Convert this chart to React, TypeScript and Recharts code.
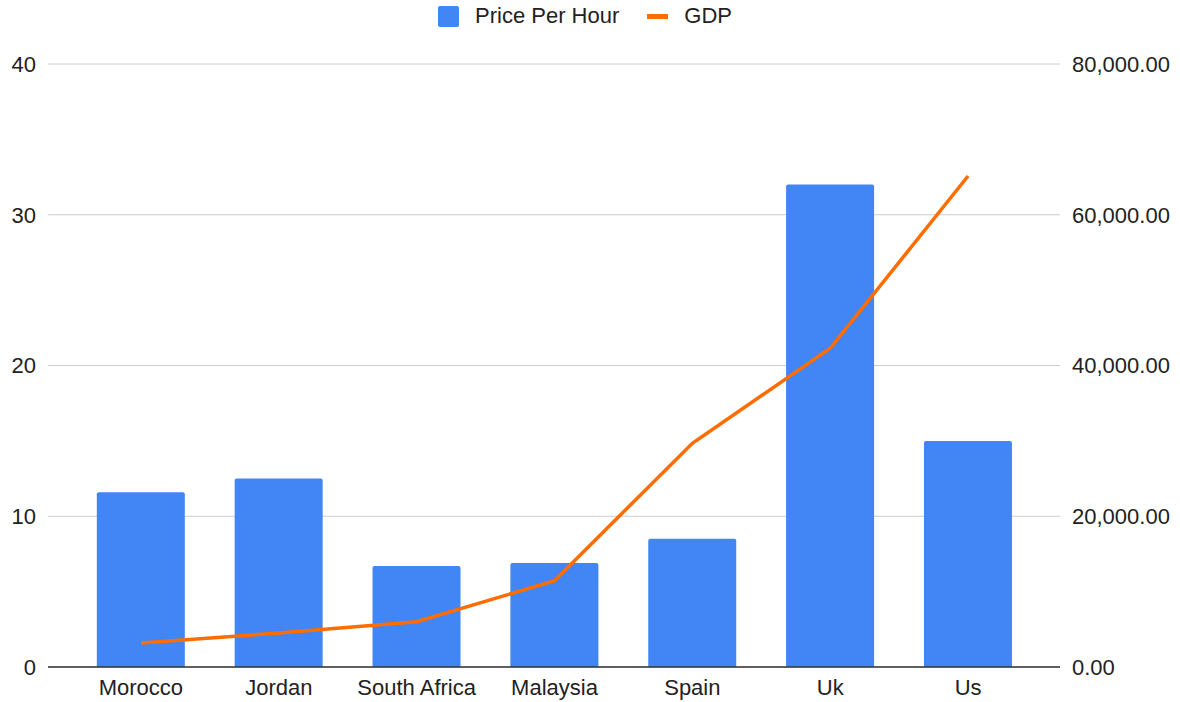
import { ComposedChart, Bar, Line, XAxis, YAxis, CartesianGrid, Legend } from "recharts";

const countries = ["Morocco", "Jordan", "South Africa", "Malaysia", "Spain", "Uk", "Us"];
const pricePerHour = [11.6, 12.5, 6.7, 6.9, 8.5, 32, 15];
const gdp = [3200, 4500, 6000, 11450, 29680, 42280, 65140];
const leftTicks = [0, 10, 20, 30, 40];
const rightTicks = [0, 20000, 40000, 60000, 80000];

const data = countries.map((name, i) => ({ name, price: pricePerHour[i], gdp: gdp[i] }));

const colors = {
    bar: "#4285F4",
    line: "#FF6D01",
    grid: "#CCCCCC",
    text: "#222222",
};

const font = "'Liberation Sans', Arial, Helvetica, sans-serif";

const LegendContent = () => (
    <div
        style={{
            display: "flex",
            justifyContent: "center",
            alignItems: "center",
            height: 32,
            paddingRight: 10,
            fontFamily: font,
            fontSize: 22,
            color: colors.text,
        }}
    >
        <span style={{ width: 21, height: 21, background: colors.bar, borderRadius: 2, marginRight: 16 }} />
        <span style={{ marginRight: 28 }}>Price Per Hour</span>
        <span style={{ width: 21, height: 5, background: colors.line, marginRight: 16 }} />
        <span>GDP</span>
    </div>
);

export default function App() {
    const fmt = (v: number) =>
        v.toLocaleString("en-US", { minimumFractionDigits: 2, maximumFractionDigits: 2 });

    return (
        <div style={{ position: "absolute", left: 0, top: 0, background: "#fff" }}>
            <ComposedChart
                width={1180}
                height={702}
                data={data}
                margin={{ top: 28, right: 0, bottom: 5, left: 0 }}
                barCategoryGap="18%"
            >
                <CartesianGrid vertical={false} stroke={colors.grid} yAxisId="left" />
                <Legend verticalAlign="top" height={36} wrapperStyle={{ top: 0 }} content={<LegendContent />} />
                <XAxis
                    dataKey="name"
                    padding={{ left: 24, right: 23 }}
                    tickLine={false}
                    tickSize={0}
                    tickMargin={12}
                    axisLine={{ stroke: "#333", strokeWidth: 1.5 }}
                    tick={{ fill: colors.text, fontSize: 22, fontFamily: font }}
                    interval={0}
                />
                <YAxis
                    yAxisId="left"
                    width={48}
                    domain={[0, 40]}
                    ticks={leftTicks}
                    axisLine={false}
                    tickLine={false}
                    tickSize={0}
                    tickMargin={12}
                    tick={{ fill: colors.text, fontSize: 22, fontFamily: font }}
                />
                <YAxis
                    yAxisId="right"
                    orientation="right"
                    width={120}
                    domain={[0, 80000]}
                    ticks={rightTicks}
                    axisLine={false}
                    tickLine={false}
                    tickSize={0}
                    tickMargin={12}
                    tickFormatter={fmt}
                    tick={{ fill: colors.text, fontSize: 22, fontFamily: font, textAnchor: "start" }}
                />
                <Bar
                    yAxisId="left"
                    dataKey="price"
                    name="Price Per Hour"
                    fill={colors.bar}
                    radius={[2, 2, 0, 0]}
                    isAnimationActive={false}
                />
                <Line
                    yAxisId="right"
                    dataKey="gdp"
                    name="GDP"
                    type="linear"
                    stroke={colors.line}
                    strokeWidth={3.5}
                    dot={false}
                    activeDot={false}
                    isAnimationActive={false}
                />
            </ComposedChart>
        </div>
    );
}
